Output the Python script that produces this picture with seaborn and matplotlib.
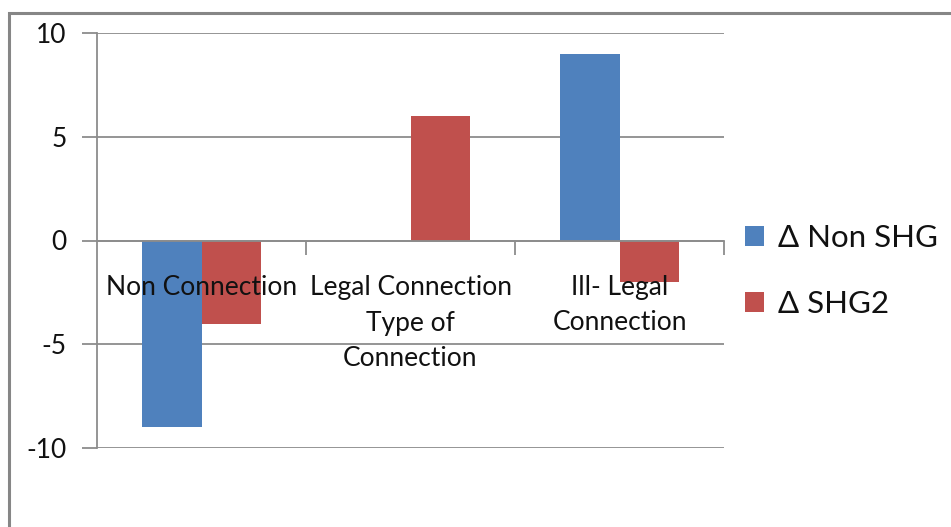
import matplotlib
matplotlib.use("Agg")
import matplotlib.pyplot as plt
import matplotlib.transforms as mtransforms
from matplotlib.patches import Rectangle, Patch
import pandas as pd
import seaborn as sns

# Change in number of households by type of connection
categories = ["Non Connection", "Legal Connection", "Ill- Legal\nConnection"]
series_names = ["\u0394 Non SHG", "\u0394 SHG2"]
non_shg = [-9, 0, 9]
shg2 = [-4, 6, -2]
y_ticks = [-10, -5, 0, 5, 10]

colors = ["#4F81BD", "#C0504D"]
grid_color = "#8C8C8C"
text_color = "#111111"

df = pd.DataFrame({
    "category": categories * 2,
    "series": [series_names[0]] * 3 + [series_names[1]] * 3,
    "value": non_shg + shg2,
})

sns.set_theme(style="white")
plt.rcParams["font.family"] = ["Lato", "DejaVu Sans"]

fig = plt.figure(figsize=(9.51, 5.27), dpi=100)
ax = fig.add_axes([97 / 951, 1 - 448 / 527, (724 - 97) / 951, (448 - 33) / 527])

sns.barplot(data=df, x="category", y="value", hue="series", order=categories,
            hue_order=series_names, palette=colors, width=0.57, saturation=1,
            ax=ax, legend=False, linewidth=0)

ax.set_xlim(-0.5, 2.5)
ax.set_ylim(-10, 10)
ax.set_yticks(y_ticks)
ax.set_yticklabels([str(v) for v in y_ticks], fontsize=19, color=text_color)
ax.yaxis.grid(True, color=grid_color, linewidth=1.3)
ax.set_axisbelow(True)
ax.tick_params(axis="y", which="major", length=11, width=1.3, color=grid_color,
               left=True, pad=11)

for side in ["top", "right"]:
    ax.spines[side].set_visible(False)
ax.spines["left"].set_color(grid_color)
ax.spines["left"].set_linewidth(1.3)
ax.spines["bottom"].set_position(("data", 0))
ax.spines["bottom"].set_color(grid_color)
ax.spines["bottom"].set_linewidth(1.3)

# Category labels sit below the zero line, drawn over the bars;
# tick marks go at the category boundaries
ax.set_xticks(range(len(categories)))
ax.set_xticklabels(categories, fontsize=19, color=text_color, linespacing=1.5)
ax.tick_params(axis="x", which="major", length=0, pad=25)
ax.set_xticks([0.5, 1.5, 2.5], minor=True)
ax.tick_params(axis="x", which="minor", length=10, width=1.3, color=grid_color,
               direction="out", bottom=True)
ax.xaxis.set_zorder(5)
ax.set_xlabel("")
ax.set_ylabel("")

# Axis title, overlapping the middle category label
trans = mtransforms.blended_transform_factory(ax.transAxes, ax.transData)
ax.annotate("Type of\nConnection", xy=(0.5, 0), xycoords=trans,
            xytext=(0, -51), textcoords="offset points", ha="center", va="top",
            fontsize=19, color=text_color, linespacing=1.5, zorder=6)

# Legend
handles = [Patch(facecolor=c, edgecolor="none") for c in colors]
fig.legend(handles, series_names, loc="center left",
           bbox_to_anchor=(745 / 951, 1 - 271 / 527), frameon=False,
           borderaxespad=0, borderpad=0,
           fontsize=22.5, handlelength=0.6, handleheight=0.6, handletextpad=0.45,
           labelspacing=1.2, labelcolor=text_color)

# Outer chart-area border, running off the right and bottom edges
fig.patches.append(Rectangle((9 / 951, -0.05), 1.1, 1 - 13 / 527 + 0.05,
                             transform=fig.transFigure, fill=False,
                             edgecolor="#868686", linewidth=2.2))

fig.savefig("out.png", dpi=100, facecolor="white")
